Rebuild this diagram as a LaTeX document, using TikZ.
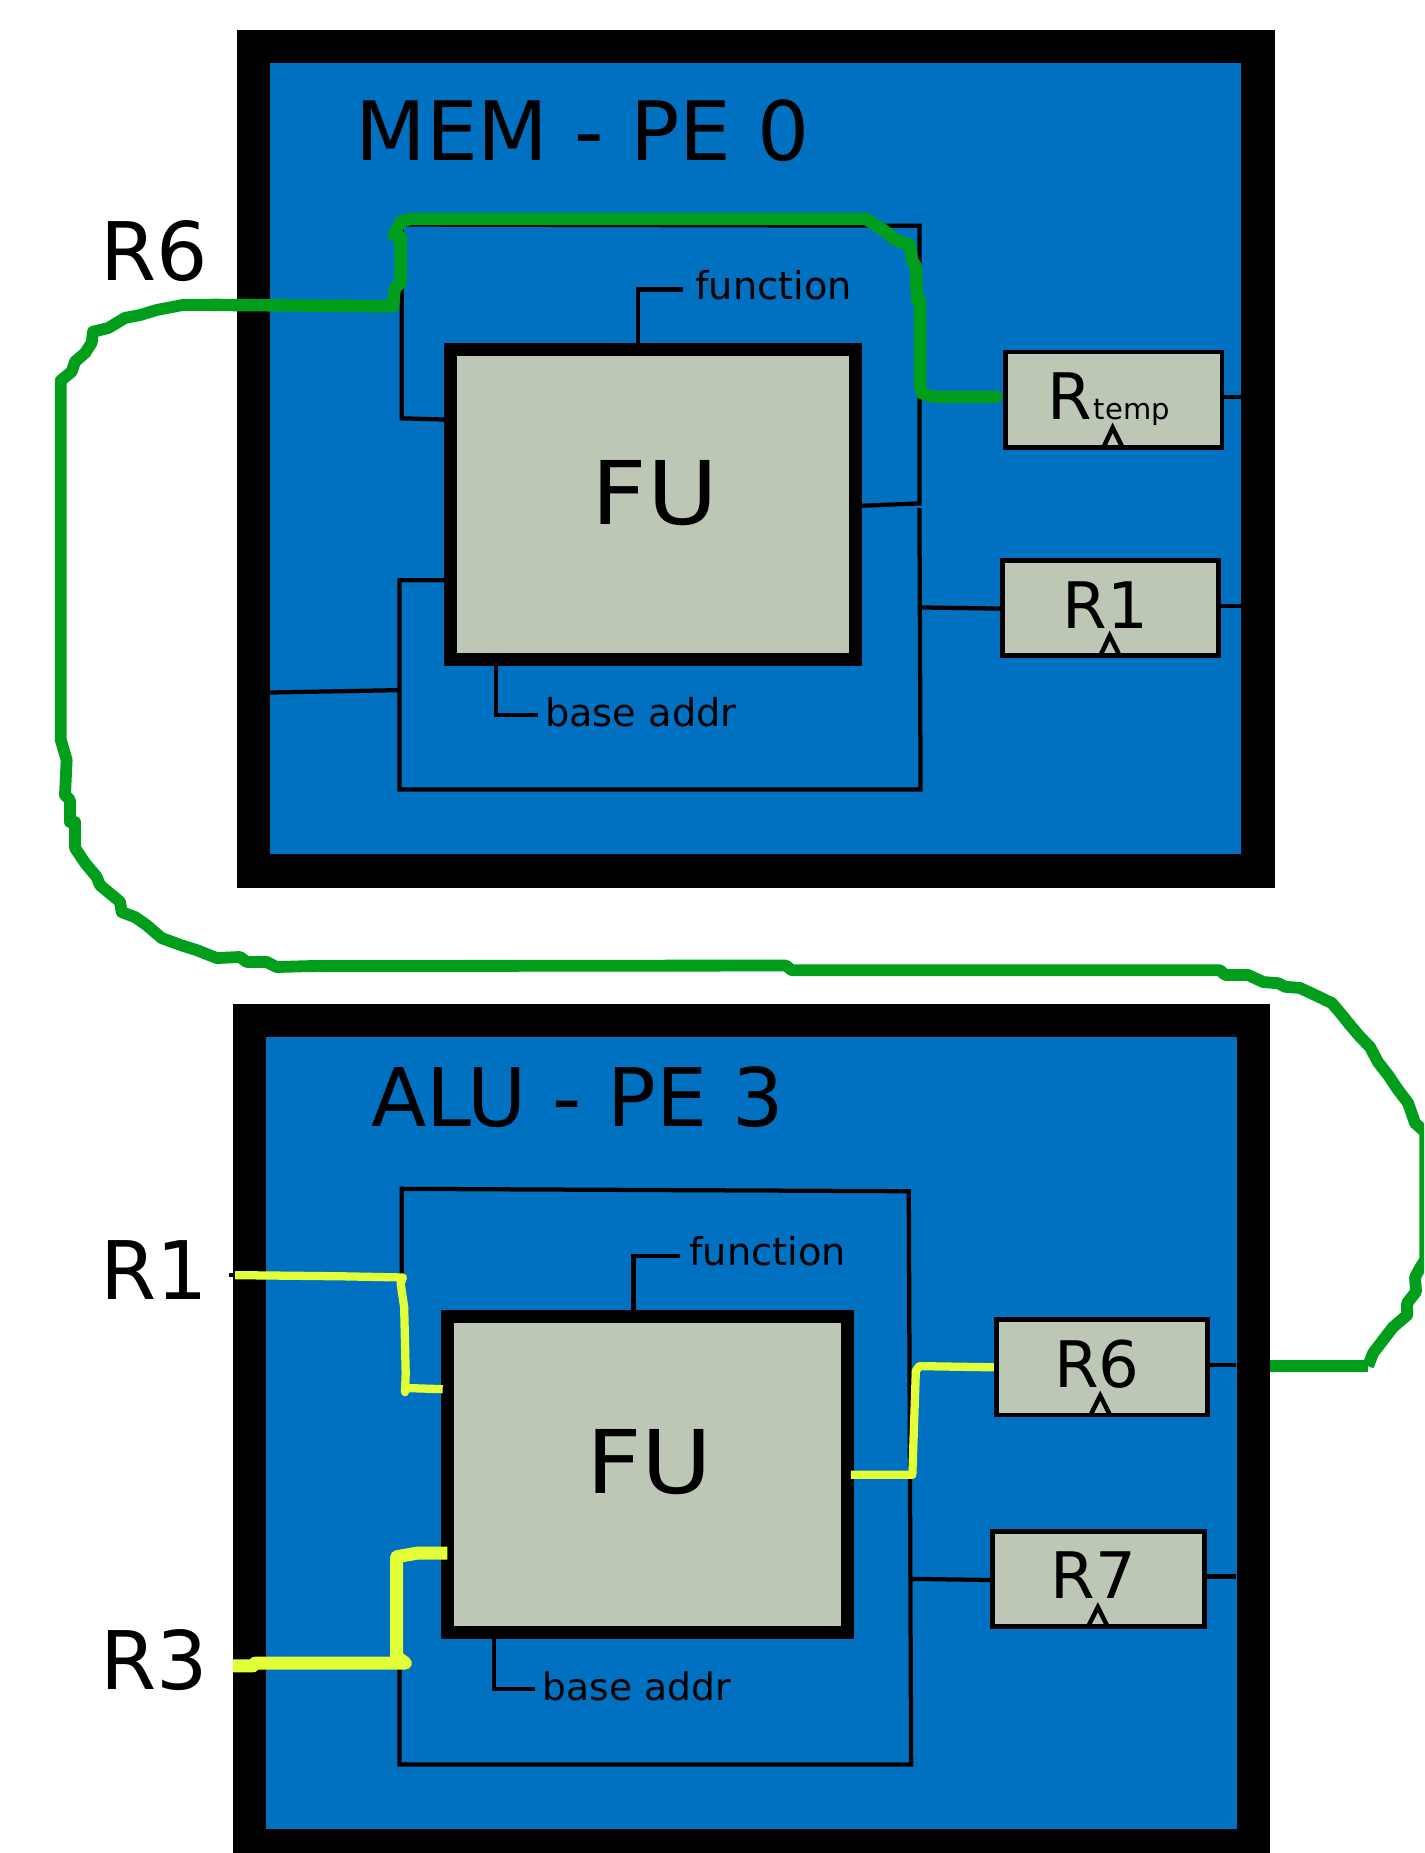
\documentclass[tikz,border=0pt]{standalone}
\usepackage{fontspec}
\setmainfont{DejaVu Sans}
\definecolor{peblue}{RGB}{0,112,192}
\definecolor{fugrey}{RGB}{189,199,181}
\definecolor{busgreen}{RGB}{0,158,26}
\definecolor{busyellow}{RGB}{226,255,56}
\newlength\pxu
\setlength\pxu{0.02364cm}
\newcommand{\fulabel}{\raisebox{-16.5\pxu}{\hspace{2pt}\scalebox{1.1}[1]{FU}}}
\newcommand{\reglabel}[1]{\raisebox{-17\pxu}{#1\hspace{6pt}}}

\begin{document}
\begin{tikzpicture}[
  x=\pxu, y=-\pxu,
  panel/.style={rectangle,draw=black,fill=peblue,line width=28*\pxu,minimum width=850*\pxu,minimum height=698*\pxu,inner sep=0pt},
  fubox/.style={rectangle,draw=black,fill=fugrey,line width=11*\pxu,minimum width=343*\pxu,minimum height=262*\pxu,inner sep=0pt,text height=0pt,text depth=0pt,font=\fontsize{50}{54}\selectfont},
  regbox/.style={rectangle,draw=black,fill=fugrey,line width=4*\pxu,minimum width=183*\pxu,minimum height=80.5*\pxu,inner sep=0pt,text height=0pt,text depth=0pt,font=\fontsize{36.5}{40}\selectfont},
  title/.style={anchor=base west,inner sep=0pt,font=\fontsize{46}{50}\selectfont},
  tag/.style={anchor=base west,inner sep=0pt,font=\fontsize{21.8}{24}\selectfont},
  wire/.style={draw=black,line width=3.6*\pxu},
  clock/.style={draw=black,line width=3.8*\pxu},
  greenthick/.style={draw=busgreen,line width=10.5*\pxu,line cap=round,line join=round},
  greenthin/.style={draw=busgreen,line width=10*\pxu,line join=round},
  yellowthin/.style={draw=busyellow,line width=7*\pxu,line join=round},
  yellowthick/.style={draw=busyellow,line width=11*\pxu,line join=round}
]
  \path[use as bounding box,clip] (0,0) rectangle (1205,1568);

  % MEM block
  \node[panel] (memPanel) at (639.5,388) {};
  \coordinate (memIn) at (228,586);
  \coordinate (memJoin) at (337,584);
  \coordinate (memTopL) at (340,190);
  \coordinate (memTopR) at (778,191);
  \coordinate (memBotL) at (338,668);
  \coordinate (memBotR) at (779,668);
  \coordinate (memOut) at (778,426);
  \coordinate (memTap) at (778,514);
  \coordinate (memFnA) at (540,245);
  \coordinate (memFnB) at (578,245);
  \coordinate (memBaseA) at (420,605);
  \coordinate (memBaseB) at (455,605);
  \coordinate (memEdgeA) at (1050,336);
  \coordinate (memEdgeB) at (1050,513);
  \draw[wire] (memIn) -- (memJoin);
  \draw[wire] (376,355) -- (340,354) -- (memTopL) -- (memTopR) -- (memOut) -- (728,428);
  \draw[wire] (376,491) -- (338,491) -- (memBotL) -- (memBotR) -- (778,430);
  \draw[wire] (memTap) -- (848,515);
  \draw[wire] (540,292) -- (memFnA) -- (memFnB);
  \draw[wire] (420,560) -- (memBaseA) -- (memBaseB);
  \draw[wire] (1034,336) -- (memEdgeA);
  \draw[wire] (1031,513) -- (memEdgeB);
  \node[fubox] (fuMem) at (552.5,427) {\fulabel};
  \node[regbox] (regTemp) at (942.6,338.2) {\reglabel{R\hspace{1pt}{\fontsize{16.5}{18}\selectfont temp}}};
  \node[regbox] (regOne) at (939.6,514.5) {\reglabel{R1}};
  \draw[clock] (934,378) -- (941.5,362) -- (949.5,378);
  \draw[clock] (931.5,554) -- (939,538) -- (947,554);
  \node[title,font=\fontsize{46.6}{50}\selectfont] (memTitle) at (300.5,136) {MEM - PE 0};
  \node[tag] (memFn) at (588,253.5) {function};
  \node[tag] (memBase) at (461,615) {base addr};

  % ALU block
  \node[panel] (aluPanel) at (636,1212.5) {};
  \coordinate (aluTopL) at (340,1006);
  \coordinate (aluTopR) at (769,1008);
  \coordinate (aluBotL) at (338,1493);
  \coordinate (aluBotR) at (771,1493);
  \coordinate (aluTap) at (771,1336);
  \coordinate (aluFnA) at (536,1063);
  \coordinate (aluFnB) at (575,1063);
  \coordinate (aluBaseA) at (418,1429);
  \coordinate (aluBaseB) at (453,1429);
  \coordinate (aluEdgeA) at (1046,1155);
  \coordinate (aluEdgeB) at (1046,1334);
  \draw[wire] (340,1080) -- (aluTopL) -- (aluTopR) -- (aluBotR) -- (aluBotL) -- (338,1410);
  \draw[wire] (aluTap) -- (839,1337);
  \draw[wire] (536,1110) -- (aluFnA) -- (aluFnB);
  \draw[wire] (418,1384) -- (aluBaseA) -- (aluBaseB);
  \draw[wire] (1022,1155) -- (aluEdgeA);
  \draw[wire] (1019,1334) -- (aluEdgeB);
  \draw[wire] (194,1079) -- (200,1079);
  \node[fubox,minimum width=338*\pxu,minimum height=267*\pxu] (fuAlu) at (548,1247.5) {\fulabel};
  \node[regbox,minimum width=179*\pxu] (regSix) at (932.5,1157) {\reglabel{R6}};
  \node[regbox,minimum width=179*\pxu] (regSeven) at (929.5,1336) {\reglabel{R7}};
  \draw[clock] (923,1197) -- (931,1181) -- (939,1197);
  \draw[clock] (921,1376) -- (929,1360) -- (937,1376);
  \node[title] (aluTitle) at (314,953) {ALU - PE 3};
  \node[tag] (aluFn) at (583,1071) {function};
  \node[tag,font=\fontsize{21.4}{24}\selectfont] (aluBase) at (459,1439) {base addr};

  % register names outside
  \node[title] (nameSix) at (85,237) {R6};
  \node[title] (nameOne) at (85,1100) {R1};
  \node[title] (nameThree) at (85,1430) {R3};

  % yellow paths
  \coordinate (yelOneL) at (198.9,1079);
  \coordinate (yelThreeL) at (197,1409.6);
  \draw[yellowthin] (yelOneL) -- (290,1080) -- (341,1081) -- (339,1086) -- (342,1106) -- (343.3,1162) -- (342.7,1178) -- (343,1174.5) -- (374.6,1175.5);
  \draw[yellowthick] (yelThreeL) -- (214,1409.6) -- (216,1407.3) -- (343,1407.3) -- (335.7,1402) -- (335.7,1317.3) -- (352.6,1314.3) -- (378.5,1314.3);
  \draw[yellowthin] (720,1248) -- (772,1248) -- (775,1160) -- (778,1156) -- (regSix.west);

  % green path
  \coordinate (grnLoop) at (180,258);
  \coordinate (grnEnd) at (1157.6,1156);
  \coordinate (grnPanel) at (1074.7,1156);
  \draw[greenthick] (grnLoop) -- (313,259) -- (332.6,259) -- (334,243.7) -- (339,239.5) -- (339,200.6) -- (333.3,199) -- (339,187.6) -- (347,185.3) -- (732.8,185.3) -- (747.6,194.6) -- (757.4,203) -- (770,207.3) -- (771.8,220) -- (775,225.7) -- (776,254) -- (778.6,254) -- (778.6,327) -- (780,332.6) -- (789.6,335.7) -- (843,335.7);
  \draw[greenthin] (grnLoop) -- (155,258) -- (132.6,262.3) -- (118.5,266.6) -- (105.8,269) -- (91.6,277.6) -- (78.7,280.7) -- (77.6,290) -- (72,298.7) -- (63.5,306) -- (60.7,314.5) -- (51.4,322) -- (51.4,626) -- (56.4,643) -- (55,672.7) -- (59.2,677) -- (59.2,695.6) -- (63.5,695.6) -- (63.5,717.6) -- (72,730.3) -- (81.8,742) -- (84.6,749) -- (101.5,763) -- (103,771.8) -- (114.2,776) -- (124,782.8) -- (136.8,793.8) -- (153.8,800) -- (166.5,804) -- (183.4,810.7) -- (203,809.8) -- (208.8,814) -- (225.7,814) -- (234,818.3) -- (262,817.5) -- (665,817) -- (670,821) -- (1015.5,821) -- (1032.4,821) -- (1036.7,825) -- (1056,825) -- (1069,831) -- (1081.5,832) -- (1087.4,835) -- (1100,836) -- (1112.8,842) -- (1127,848.8) -- (1134,857) -- (1142.4,867.4) -- (1151,877.5) -- (1159.3,886) -- (1166,898.7) -- (1174.6,909.7) -- (1182,920.8) -- (1191.5,933.4) -- (1197.4,950.3) -- (1206,958) -- (1206,1066) -- (1201.6,1073) -- (1197.4,1080.7) -- (1198.2,1093) -- (1190.7,1102.7) -- (1190.7,1112.8) -- (1178.8,1123) -- (1170.3,1134) -- (1161.9,1145) -- (grnEnd);
  \draw[greenthick,line cap=butt] (grnEnd) -- (grnPanel);
\end{tikzpicture}
\end{document}
